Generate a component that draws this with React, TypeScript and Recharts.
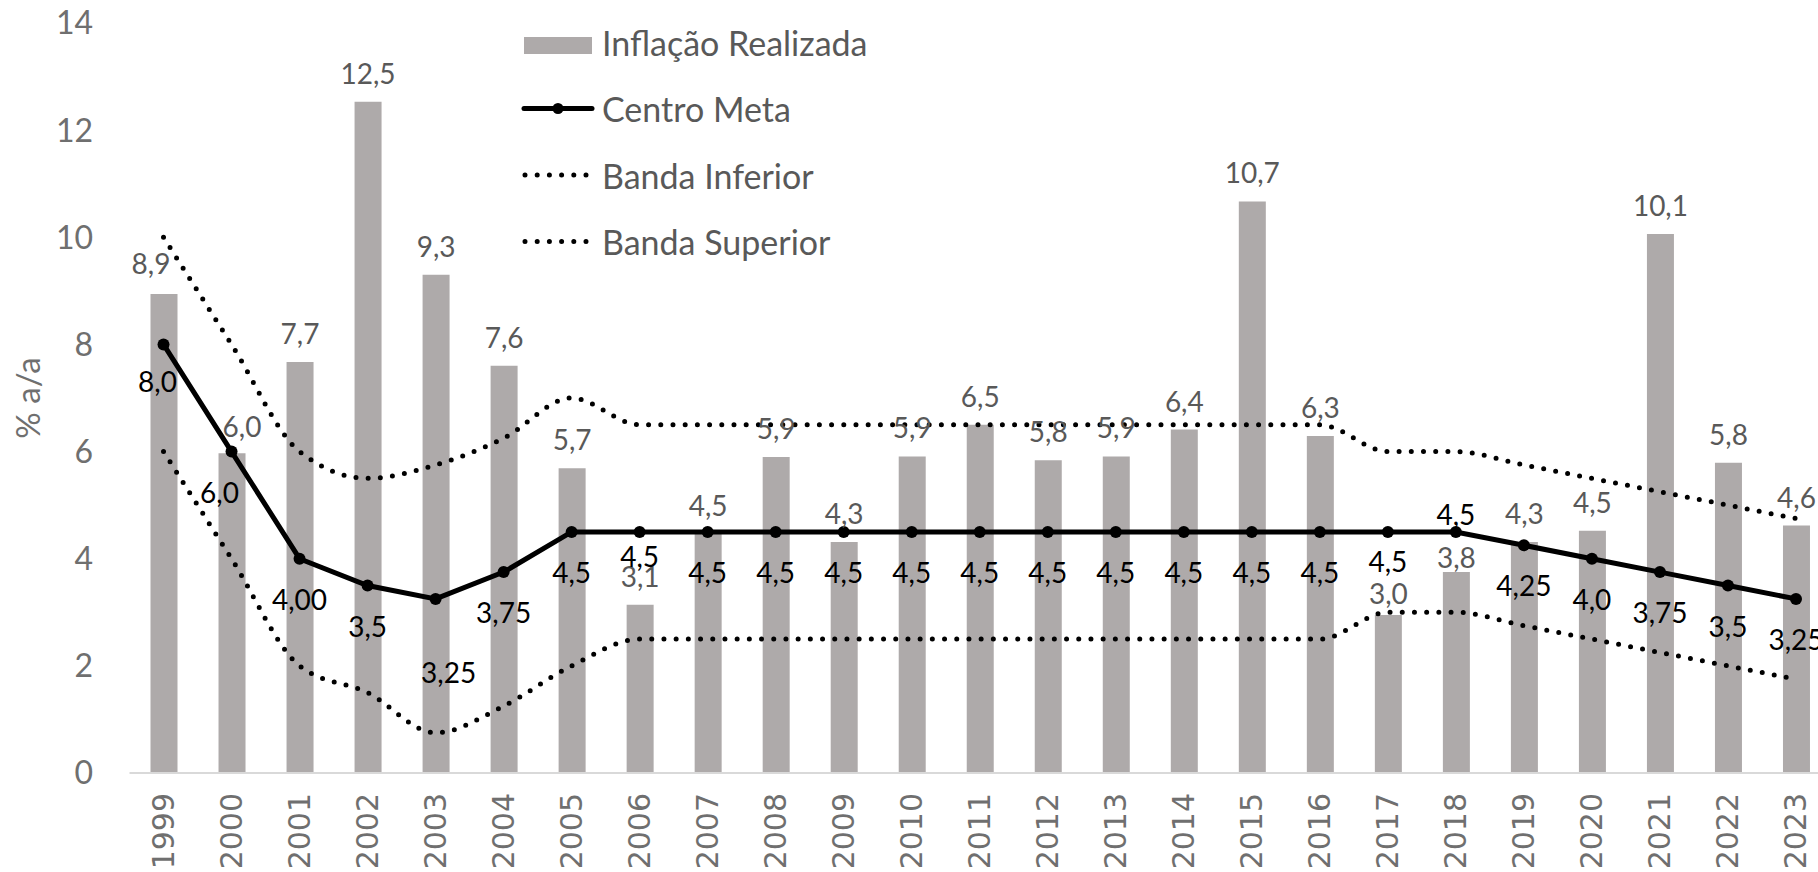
import { Bar, ComposedChart, LabelList, Legend, Line, XAxis, YAxis } from "recharts";

const YEARS = [
  "1999", "2000", "2001", "2002", "2003", "2004", "2005", "2006", "2007", "2008", "2009", "2010", "2011",
  "2012", "2013", "2014", "2015", "2016", "2017", "2018", "2019", "2020", "2021", "2022", "2023",
];
const INFLACAO = [
  8.94, 5.97, 7.67, 12.53, 9.3, 7.6, 5.69, 3.14, 4.46, 5.9, 4.31, 5.91, 6.5, 5.84, 5.91, 6.41, 10.67, 6.29,
  2.95, 3.75, 4.31, 4.52, 10.06, 5.79, 4.62,
];
const CENTRO_META = [
  8, 6, 4, 3.5, 3.25, 3.75, 4.5, 4.5, 4.5, 4.5, 4.5, 4.5, 4.5, 4.5, 4.5, 4.5, 4.5, 4.5, 4.5, 4.5, 4.25, 4, 3.75,
  3.5, 3.25,
];
const CENTRO_LABELS = [
  "8,0", "6,0", "4,00", "3,5", "3,25", "3,75", "4,5", "4,5", "4,5", "4,5", "4,5", "4,5", "4,5", "4,5", "4,5",
  "4,5", "4,5", "4,5", "4,5", "4,5", "4,25", "4,0", "3,75", "3,5", "3,25",
];
const BANDA_INFERIOR = [
  6, 4, 2, 1.5, 0.75, 1.25, 2, 2.5, 2.5, 2.5, 2.5, 2.5, 2.5, 2.5, 2.5, 2.5, 2.5, 2.5, 3, 3, 2.75, 2.5, 2.25, 2,
  1.75,
];
const BANDA_SUPERIOR = [
  10, 8, 6, 5.5, 5.75, 6.25, 7, 6.5, 6.5, 6.5, 6.5, 6.5, 6.5, 6.5, 6.5, 6.5, 6.5, 6.5, 6, 6, 5.75, 5.5, 5.25, 5,
  4.75,
];
const Y_TICKS = [0, 2, 4, 6, 8, 10, 12, 14];
const SERIES_NAMES = ["Inflação Realizada", "Centro Meta", "Banda Inferior", "Banda Superior"];

const data = YEARS.map((ano, i) => ({
  ano,
  inflacao: INFLACAO[i],
  centro: CENTRO_META[i],
  inferior: BANDA_INFERIOR[i],
  superior: BANDA_SUPERIOR[i],
}));

const FONT = "Lato, 'Open Sans', sans-serif";
const BAR_COLOR = "#aeaaaa";
const GRAY_TEXT = "#595959";
const AXIS_TEXT = "#6f6f6f";
const LABEL_SIZE = 28;
const DOTTED = { stroke: "#000", strokeWidth: 5, strokeDasharray: "0 12.2", strokeLinecap: "round" as const };

// hand-placed labels, as in the original sheet
const CENTER_NUDGE: Record<number, [number, number]> = {
  0: [-6, 37],
  1: [-12, 40],
  4: [13, 73],
  7: [0, 24],
  18: [0, 29],
  19: [0, -18],
};
const BAR_NUDGE: Record<number, [number, number]> = {
  0: [-13, -31],
  1: [10, -27],
  18: [0, -22],
  19: [0, -15],
};

const fmt = (v: number) => v.toFixed(1).replace(".", ",");

function CenterLabel(props: any) {
  const vb = props.viewBox ?? {};
  const x = props.x ?? vb.x;
  const y = props.y ?? vb.y;
  const [dx, dy] = CENTER_NUDGE[props.index] ?? [0, 40];
  return (
    <text
      x={x + dx}
      y={y + dy}
      textAnchor="middle"
      dominantBaseline="central"
      fontFamily={FONT}
      fontSize={LABEL_SIZE}
      fill="#000"
    >
      {CENTRO_LABELS[props.index]}
    </text>
  );
}

function BarLabel(props: any) {
  const vb = props.viewBox ?? props;
  const [dx, dy] = BAR_NUDGE[props.index] ?? [0, -29];
  return (
    <text
      x={vb.x + vb.width / 2 + dx}
      y={vb.y + dy}
      textAnchor="middle"
      dominantBaseline="central"
      fontFamily={FONT}
      fontSize={LABEL_SIZE}
      fill={GRAY_TEXT}
    >
      {fmt(Number(props.value))}
    </text>
  );
}

function YearTick({ x, y, payload }: any) {
  return (
    <text
      x={x}
      y={y}
      transform={`rotate(-90, ${x}, ${y})`}
      textAnchor="end"
      dominantBaseline="central"
      fontFamily="'DejaVu Sans', sans-serif"
      fontSize={30}
      fill={AXIS_TEXT}
    >
      {payload.value}
    </text>
  );
}

function AxisTitle({ viewBox }: any) {
  const cy = viewBox.y + viewBox.height / 2;
  return (
    <text
      x={27}
      y={cy}
      transform={`rotate(-90, 27, ${cy})`}
      textAnchor="middle"
      dominantBaseline="central"
      fontFamily={FONT}
      fontSize={33}
      fill={AXIS_TEXT}
    >
      % a/a
    </text>
  );
}

function LegendBox() {
  const rowY = (i: number) => 42 + i * 66.5;
  return (
    <svg width={1000} height={280}>
      {SERIES_NAMES.map((name, i) => {
        const cy = rowY(i);
        let symbol;
        if (i === 0) symbol = <rect x={524} y={cy - 5} width={68} height={17} fill={BAR_COLOR} />;
        else if (i === 1)
          symbol = (
            <g>
              <line x1={524} x2={592} y1={cy} y2={cy} stroke="#000" strokeWidth={5} strokeLinecap="round" />
              <circle cx={558} cy={cy} r={5.5} fill="#000" />
            </g>
          );
        else symbol = <line x1={525} x2={590} y1={cy} y2={cy} {...DOTTED} />;
        return (
          <g key={name}>
            {symbol}
            <text x={602} y={cy} dominantBaseline="central" fontFamily={FONT} fontSize={34} fill={GRAY_TEXT}>
              {name}
            </text>
          </g>
        );
      })}
    </svg>
  );
}

export default function App() {
  return (
    <div
      style={{
        position: "absolute",
        left: 0,
        top: 0,
        width: 1818,
        height: 872,
        overflow: "hidden",
        background: "#fff",
      }}
    >
      <ComposedChart width={1830} height={872} data={data} margin={{ top: 23, right: 0, bottom: 0, left: 0 }}>
        <XAxis
          dataKey="ano"
          interval={0}
          height={99}
          tickLine={false}
          tickSize={0}
          tickMargin={20}
          axisLine={{ stroke: "#d9d9d9", strokeWidth: 2 }}
          tick={<YearTick />}
        />
        <YAxis
          width={129.5}
          domain={[0, 14]}
          ticks={Y_TICKS}
          axisLine={false}
          tickLine={false}
          tickSize={0}
          tickMargin={36.5}
          tick={{ fontFamily: FONT, fontSize: 32, fill: AXIS_TEXT }}
          label={<AxisTitle />}
        />
        <Legend
          layout="vertical"
          align="center"
          verticalAlign="middle"
          content={<LegendBox />}
          wrapperStyle={{ left: 0, top: 0, width: 1000, height: 280 }}
        />
        <Bar dataKey="inflacao" name={SERIES_NAMES[0]} fill={BAR_COLOR} barSize={27} isAnimationActive={false}>
          <LabelList dataKey="inflacao" content={<BarLabel />} />
        </Bar>
        <Line
          type="monotone"
          dataKey="inferior"
          name={SERIES_NAMES[2]}
          {...DOTTED}
          dot={false}
          activeDot={false}
          isAnimationActive={false}
        />
        <Line
          type="monotone"
          dataKey="superior"
          name={SERIES_NAMES[3]}
          {...DOTTED}
          dot={false}
          activeDot={false}
          isAnimationActive={false}
        />
        <Line
          type="linear"
          dataKey="centro"
          name={SERIES_NAMES[1]}
          stroke="#000"
          strokeWidth={5}
          dot={{ r: 6, fill: "#000", stroke: "none" }}
          activeDot={false}
          isAnimationActive={false}
        >
          <LabelList dataKey="centro" content={<CenterLabel />} />
        </Line>
      </ComposedChart>
    </div>
  );
}
